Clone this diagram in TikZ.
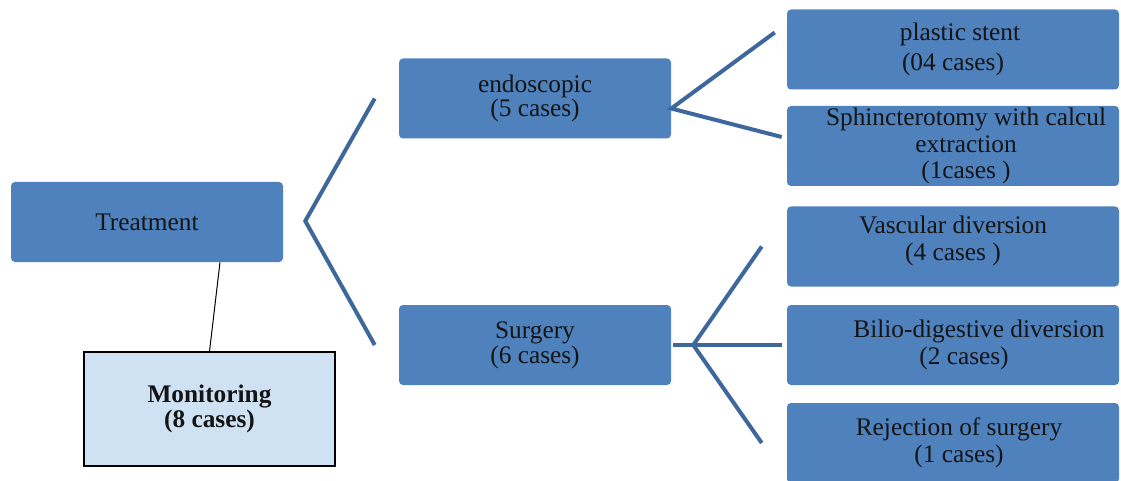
\documentclass[tikz,border=0pt]{standalone}
\usepackage{fontspec}
\setmainfont{Liberation Serif}
\usetikzlibrary{calc}
\definecolor{boxblue}{RGB}{79,129,189}
\definecolor{lineblue}{RGB}{62,104,156}
\definecolor{lightbox}{RGB}{207,226,243}
\definecolor{txt}{RGB}{20,20,20}
\begin{document}
\begin{tikzpicture}[x=0.75pt,y=-0.75pt,
  bluebox/.style={fill=boxblue, rounded corners=3pt, align=center, inner sep=0pt,
    text=txt, font=\fontsize{19}{20}\selectfont},
  lvl1box/.style={bluebox, minimum width=204pt, minimum height=60pt},
  leafbox/.style={bluebox, minimum width=249pt, minimum height=60pt},
  monbox/.style={fill=lightbox, draw=black, line width=0.8pt, align=center, inner sep=0pt,
    minimum width=188.25pt, minimum height=85.5pt, text=txt,
    font=\fontsize{19}{20}\selectfont\bfseries},
  conn/.style={draw=lineblue, line width=3pt},
  thinconn/.style={draw=black, line width=0.75pt}]
\useasboundingbox (0,0) rectangle (1121,481);

% boxes
\node[lvl1box] (treat) at (147,222) {Treatment};
\node[monbox] (mon) at (209.5,409) {Monitoring\\[-1.5pt](8 cases)};
\node[lvl1box] (endo) at (535,98.5) {endoscopic\\[-1.5pt](5 cases)};
\node[lvl1box] (surg) at (535,345) {Surgery\\[-1.5pt](6 cases)};
\node[leafbox] (stent) at (953,49.5) {\hspace*{10.5pt}plastic stent\\[2.5pt](04 cases)};
\node[leafbox] (sphinc) at (953,146) {\hspace*{19.5pt}Sphincterotomy with calcul\\\hspace*{19.5pt}extraction\\\hspace*{19.5pt}(1cases )};
\node[leafbox] (vasc) at (953,246.5) {Vascular diversion\\(4 cases )\\[-8pt]\mbox{}};
\node[leafbox] (bilio) at (953,345) {\hspace*{39pt}Bilio-digestive diversion\\\hspace*{16.5pt}(2 cases)};
\node[leafbox] (rej) at (953,443) {\hspace*{9pt}Rejection of surgery\\\hspace*{9pt}(1 cases)};

% connector coordinates
\coordinate (tj) at ($(treat.east)+(22,-1)$);
\coordinate (te1) at ($(endo.west)+(-24,0)$);
\coordinate (te2) at ($(surg.west)+(-24,0)$);
\coordinate (ej) at ($(endo.east)+(0,10)$);
\coordinate (ps1) at ($(stent.west)+(-12,-17)$);
\coordinate (sp1) at ($(sphinc.west)+(-5,-9)$);
\coordinate (ss) at ($(surg.east)+(2,0)$);
\coordinate (sj) at ($(surg.east)+(22,0)$);
\coordinate (bi1) at ($(bilio.west)+(-5,0)$);
\coordinate (va1) at ($(vasc.west)+(-25,0)$);
\coordinate (re1) at ($(rej.west)+(-25,0)$);
\coordinate (tm) at ($(treat.south)+(73,0)$);

% connectors
\draw[conn] (te1) -- (tj) -- (te2);
\draw[conn] (ps1) -- (ej) -- (sp1);
\draw[conn] (ss) -- (bi1);
\draw[conn] (va1) -- (sj) -- (re1);
\draw[thinconn] (tm) -- (mon.north);
\end{tikzpicture}
\end{document}
